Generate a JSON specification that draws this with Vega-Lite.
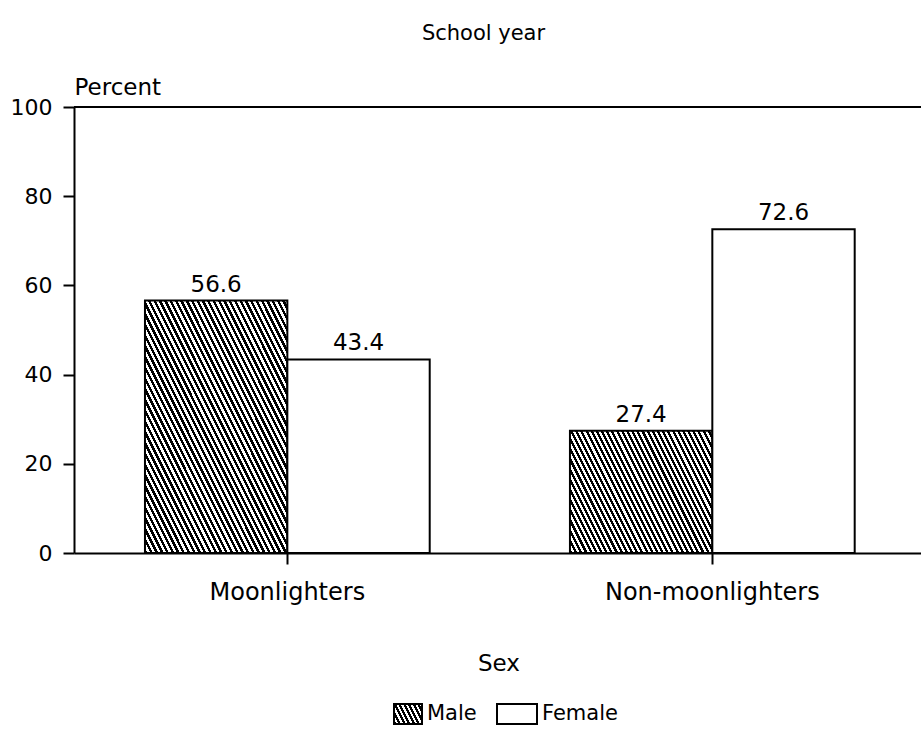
{
"$schema": "https://vega.github.io/schema/vega-lite/v6.json",
"width": 847,
"height": 446,
"autosize": {"type": "none"},
"padding": {"left": 74, "top": 107, "right": 0, "bottom": 176},
"background": "white",
"config": {"view": {"stroke": null}, "font": "DejaVu Sans",
"legend": {"orient": "none", "legendX": 307, "legendY": 546, "direction": "horizontal", "padding": 0, "titleOrient": "top", "titleAnchor": "middle", "titleFont": "DejaVu Sans", "titleFontSize": 23, "titleFontWeight": "normal", "titleColor": "#000", "titlePadding": 17, "labelFont": "DejaVu Sans", "labelFontSize": 21, "labelColor": "#000", "labelOffset": 4, "columnPadding": 16, "symbolSize": 1600, "symbolStrokeWidth": 2, "symbolStrokeColor": "#000", "symbolOpacity": 1}},
"title": {"text": "School year", "fontSize": 21, "font": "DejaVu Sans", "fontWeight": "normal", "color": "#000", "anchor": "middle", "dx": -14, "offset": 32},
"data": {"values": [
{"group": "Moonlighters", "sex": "Male", "percent": 56.6},
{"group": "Moonlighters", "sex": "Female", "percent": 43.4},
{"group": "Non-moonlighters", "sex": "Male", "percent": 27.4},
{"group": "Non-moonlighters", "sex": "Female", "percent": 72.6}
]},
"layer": [
{
"mark": {"type": "bar", "stroke": "#000", "strokeWidth": 2},
"encoding": {
"x": {"field": "group", "type": "nominal", "sort": ["Moonlighters", "Non-moonlighters"],
"scale": {"paddingInner": 0.33, "paddingOuter": 0.1615, "align": 0.517},
"axis": {"title": null, "labelAngle": 0, "labelLimit": 0, "labelFont": "DejaVu Sans", "labelFontSize": 24, "labelColor": "#000", "labelPadding": 16, "tickSize": 11, "tickColor": "#000", "tickWidth": 2, "domainColor": "#000", "domainWidth": 2}},
"xOffset": {"field": "sex", "type": "nominal", "sort": ["Male", "Female"], "scale": {"domain": ["Male", "Female"], "paddingInner": 0, "paddingOuter": 0}},
"y": {"field": "percent", "type": "quantitative", "scale": {"domain": [0, 100]},
"axis": {"title": "Percent", "titleAngle": 0, "titleAlign": "left", "titleX": 0, "titleY": -13, "titleBaseline": "alphabetic", "titleFont": "DejaVu Sans", "titleFontSize": 23, "titleFontWeight": "normal", "titleColor": "#000", "values": [0, 20, 40, 60, 80, 100], "labelFont": "DejaVu Sans", "labelFontSize": 22, "labelColor": "#000", "labelPadding": 11, "tickSize": 11, "tickColor": "#000", "tickWidth": 2, "domainColor": "#000", "domainWidth": 2, "grid": false}},
"fill": {"condition": [
{"test": "datum.sex === 'Male' && datum.group === 'Moonlighters'", "value": {"gradient": "linear", "x1": 0, "y1": 1, "x2": 1.057, "y2": 0.064, "stops": [
{"offset":0,"color":"#000"},
{"offset":0.01,"color":"#000"},{"offset":0.01,"color":"#fff"},
{"offset":0.02,"color":"#fff"},{"offset":0.02,"color":"#000"},
{"offset":0.03,"color":"#000"},{"offset":0.03,"color":"#fff"},
{"offset":0.04,"color":"#fff"},{"offset":0.04,"color":"#000"},
{"offset":0.05,"color":"#000"},{"offset":0.05,"color":"#fff"},
{"offset":0.06,"color":"#fff"},{"offset":0.06,"color":"#000"},
{"offset":0.07,"color":"#000"},{"offset":0.07,"color":"#fff"},
{"offset":0.08,"color":"#fff"},{"offset":0.08,"color":"#000"},
{"offset":0.09,"color":"#000"},{"offset":0.09,"color":"#fff"},
{"offset":0.1,"color":"#fff"},{"offset":0.1,"color":"#000"},
{"offset":0.11,"color":"#000"},{"offset":0.11,"color":"#fff"},
{"offset":0.12,"color":"#fff"},{"offset":0.12,"color":"#000"},
{"offset":0.13,"color":"#000"},{"offset":0.13,"color":"#fff"},
{"offset":0.14,"color":"#fff"},{"offset":0.14,"color":"#000"},
{"offset":0.15,"color":"#000"},{"offset":0.15,"color":"#fff"},
{"offset":0.16,"color":"#fff"},{"offset":0.16,"color":"#000"},
{"offset":0.17,"color":"#000"},{"offset":0.17,"color":"#fff"},
{"offset":0.18,"color":"#fff"},{"offset":0.18,"color":"#000"},
{"offset":0.19,"color":"#000"},{"offset":0.19,"color":"#fff"},
{"offset":0.2,"color":"#fff"},{"offset":0.2,"color":"#000"},
{"offset":0.21,"color":"#000"},{"offset":0.21,"color":"#fff"},
{"offset":0.22,"color":"#fff"},{"offset":0.22,"color":"#000"},
{"offset":0.23,"color":"#000"},{"offset":0.23,"color":"#fff"},
{"offset":0.24,"color":"#fff"},{"offset":0.24,"color":"#000"},
{"offset":0.25,"color":"#000"},{"offset":0.25,"color":"#fff"},
{"offset":0.26,"color":"#fff"},{"offset":0.26,"color":"#000"},
{"offset":0.27,"color":"#000"},{"offset":0.27,"color":"#fff"},
{"offset":0.28,"color":"#fff"},{"offset":0.28,"color":"#000"},
{"offset":0.29,"color":"#000"},{"offset":0.29,"color":"#fff"},
{"offset":0.3,"color":"#fff"},{"offset":0.3,"color":"#000"},
{"offset":0.31,"color":"#000"},{"offset":0.31,"color":"#fff"},
{"offset":0.32,"color":"#fff"},{"offset":0.32,"color":"#000"},
{"offset":0.33,"color":"#000"},{"offset":0.33,"color":"#fff"},
{"offset":0.34,"color":"#fff"},{"offset":0.34,"color":"#000"},
{"offset":0.35,"color":"#000"},{"offset":0.35,"color":"#fff"},
{"offset":0.36,"color":"#fff"},{"offset":0.36,"color":"#000"},
{"offset":0.37,"color":"#000"},{"offset":0.37,"color":"#fff"},
{"offset":0.38,"color":"#fff"},{"offset":0.38,"color":"#000"},
{"offset":0.39,"color":"#000"},{"offset":0.39,"color":"#fff"},
{"offset":0.4,"color":"#fff"},{"offset":0.4,"color":"#000"},
{"offset":0.41,"color":"#000"},{"offset":0.41,"color":"#fff"},
{"offset":0.42,"color":"#fff"},{"offset":0.42,"color":"#000"},
{"offset":0.43,"color":"#000"},{"offset":0.43,"color":"#fff"},
{"offset":0.44,"color":"#fff"},{"offset":0.44,"color":"#000"},
{"offset":0.45,"color":"#000"},{"offset":0.45,"color":"#fff"},
{"offset":0.46,"color":"#fff"},{"offset":0.46,"color":"#000"},
{"offset":0.47,"color":"#000"},{"offset":0.47,"color":"#fff"},
{"offset":0.48,"color":"#fff"},{"offset":0.48,"color":"#000"},
{"offset":0.49,"color":"#000"},{"offset":0.49,"color":"#fff"},
{"offset":0.5,"color":"#fff"},{"offset":0.5,"color":"#000"},
{"offset":0.51,"color":"#000"},{"offset":0.51,"color":"#fff"},
{"offset":0.52,"color":"#fff"},{"offset":0.52,"color":"#000"},
{"offset":0.53,"color":"#000"},{"offset":0.53,"color":"#fff"},
{"offset":0.54,"color":"#fff"},{"offset":0.54,"color":"#000"},
{"offset":0.55,"color":"#000"},{"offset":0.55,"color":"#fff"},
{"offset":0.56,"color":"#fff"},{"offset":0.56,"color":"#000"},
{"offset":0.57,"color":"#000"},{"offset":0.57,"color":"#fff"},
{"offset":0.58,"color":"#fff"},{"offset":0.58,"color":"#000"},
{"offset":0.59,"color":"#000"},{"offset":0.59,"color":"#fff"},
{"offset":0.6,"color":"#fff"},{"offset":0.6,"color":"#000"},
{"offset":0.61,"color":"#000"},{"offset":0.61,"color":"#fff"},
{"offset":0.62,"color":"#fff"},{"offset":0.62,"color":"#000"},
{"offset":0.63,"color":"#000"},{"offset":0.63,"color":"#fff"},
{"offset":0.64,"color":"#fff"},{"offset":0.64,"color":"#000"},
{"offset":0.65,"color":"#000"},{"offset":0.65,"color":"#fff"},
{"offset":0.66,"color":"#fff"},{"offset":0.66,"color":"#000"},
{"offset":0.67,"color":"#000"},{"offset":0.67,"color":"#fff"},
{"offset":0.68,"color":"#fff"},{"offset":0.68,"color":"#000"},
{"offset":0.69,"color":"#000"},{"offset":0.69,"color":"#fff"},
{"offset":0.7,"color":"#fff"},{"offset":0.7,"color":"#000"},
{"offset":0.71,"color":"#000"},{"offset":0.71,"color":"#fff"},
{"offset":0.72,"color":"#fff"},{"offset":0.72,"color":"#000"},
{"offset":0.73,"color":"#000"},{"offset":0.73,"color":"#fff"},
{"offset":0.74,"color":"#fff"},{"offset":0.74,"color":"#000"},
{"offset":0.75,"color":"#000"},{"offset":0.75,"color":"#fff"},
{"offset":0.76,"color":"#fff"},{"offset":0.76,"color":"#000"},
{"offset":0.77,"color":"#000"},{"offset":0.77,"color":"#fff"},
{"offset":0.78,"color":"#fff"},{"offset":0.78,"color":"#000"},
{"offset":0.79,"color":"#000"},{"offset":0.79,"color":"#fff"},
{"offset":0.8,"color":"#fff"},{"offset":0.8,"color":"#000"},
{"offset":0.81,"color":"#000"},{"offset":0.81,"color":"#fff"},
{"offset":0.82,"color":"#fff"},{"offset":0.82,"color":"#000"},
{"offset":0.83,"color":"#000"},{"offset":0.83,"color":"#fff"},
{"offset":0.84,"color":"#fff"},{"offset":0.84,"color":"#000"},
{"offset":0.85,"color":"#000"},{"offset":0.85,"color":"#fff"},
{"offset":0.86,"color":"#fff"},{"offset":0.86,"color":"#000"},
{"offset":0.87,"color":"#000"},{"offset":0.87,"color":"#fff"},
{"offset":0.88,"color":"#fff"},{"offset":0.88,"color":"#000"},
{"offset":0.89,"color":"#000"},{"offset":0.89,"color":"#fff"},
{"offset":0.9,"color":"#fff"},{"offset":0.9,"color":"#000"},
{"offset":0.91,"color":"#000"},{"offset":0.91,"color":"#fff"},
{"offset":0.92,"color":"#fff"},{"offset":0.92,"color":"#000"},
{"offset":0.93,"color":"#000"},{"offset":0.93,"color":"#fff"},
{"offset":0.94,"color":"#fff"},{"offset":0.94,"color":"#000"},
{"offset":0.95,"color":"#000"},{"offset":0.95,"color":"#fff"},
{"offset":0.96,"color":"#fff"},{"offset":0.96,"color":"#000"},
{"offset":0.97,"color":"#000"},{"offset":0.97,"color":"#fff"},
{"offset":0.98,"color":"#fff"},{"offset":0.98,"color":"#000"},
{"offset":0.99,"color":"#000"},{"offset":0.99,"color":"#fff"},
{"offset":1,"color":"#fff"}
]}},
{"test": "datum.sex === 'Male' && datum.group === 'Non-moonlighters'", "value": {"gradient": "linear", "x1": 0, "y1": 1, "x2": 1.207, "y2": 0.482, "stops": [
{"offset":0,"color":"#000"},
{"offset":0.0125,"color":"#000"},{"offset":0.0125,"color":"#fff"},
{"offset":0.025,"color":"#fff"},{"offset":0.025,"color":"#000"},
{"offset":0.0375,"color":"#000"},{"offset":0.0375,"color":"#fff"},
{"offset":0.05,"color":"#fff"},{"offset":0.05,"color":"#000"},
{"offset":0.0625,"color":"#000"},{"offset":0.0625,"color":"#fff"},
{"offset":0.075,"color":"#fff"},{"offset":0.075,"color":"#000"},
{"offset":0.0875,"color":"#000"},{"offset":0.0875,"color":"#fff"},
{"offset":0.1,"color":"#fff"},{"offset":0.1,"color":"#000"},
{"offset":0.1125,"color":"#000"},{"offset":0.1125,"color":"#fff"},
{"offset":0.125,"color":"#fff"},{"offset":0.125,"color":"#000"},
{"offset":0.1375,"color":"#000"},{"offset":0.1375,"color":"#fff"},
{"offset":0.15,"color":"#fff"},{"offset":0.15,"color":"#000"},
{"offset":0.1625,"color":"#000"},{"offset":0.1625,"color":"#fff"},
{"offset":0.175,"color":"#fff"},{"offset":0.175,"color":"#000"},
{"offset":0.1875,"color":"#000"},{"offset":0.1875,"color":"#fff"},
{"offset":0.2,"color":"#fff"},{"offset":0.2,"color":"#000"},
{"offset":0.2125,"color":"#000"},{"offset":0.2125,"color":"#fff"},
{"offset":0.225,"color":"#fff"},{"offset":0.225,"color":"#000"},
{"offset":0.2375,"color":"#000"},{"offset":0.2375,"color":"#fff"},
{"offset":0.25,"color":"#fff"},{"offset":0.25,"color":"#000"},
{"offset":0.2625,"color":"#000"},{"offset":0.2625,"color":"#fff"},
{"offset":0.275,"color":"#fff"},{"offset":0.275,"color":"#000"},
{"offset":0.2875,"color":"#000"},{"offset":0.2875,"color":"#fff"},
{"offset":0.3,"color":"#fff"},{"offset":0.3,"color":"#000"},
{"offset":0.3125,"color":"#000"},{"offset":0.3125,"color":"#fff"},
{"offset":0.325,"color":"#fff"},{"offset":0.325,"color":"#000"},
{"offset":0.3375,"color":"#000"},{"offset":0.3375,"color":"#fff"},
{"offset":0.35,"color":"#fff"},{"offset":0.35,"color":"#000"},
{"offset":0.3625,"color":"#000"},{"offset":0.3625,"color":"#fff"},
{"offset":0.375,"color":"#fff"},{"offset":0.375,"color":"#000"},
{"offset":0.3875,"color":"#000"},{"offset":0.3875,"color":"#fff"},
{"offset":0.4,"color":"#fff"},{"offset":0.4,"color":"#000"},
{"offset":0.4125,"color":"#000"},{"offset":0.4125,"color":"#fff"},
{"offset":0.425,"color":"#fff"},{"offset":0.425,"color":"#000"},
{"offset":0.4375,"color":"#000"},{"offset":0.4375,"color":"#fff"},
{"offset":0.45,"color":"#fff"},{"offset":0.45,"color":"#000"},
{"offset":0.4625,"color":"#000"},{"offset":0.4625,"color":"#fff"},
{"offset":0.475,"color":"#fff"},{"offset":0.475,"color":"#000"},
{"offset":0.4875,"color":"#000"},{"offset":0.4875,"color":"#fff"},
{"offset":0.5,"color":"#fff"},{"offset":0.5,"color":"#000"},
{"offset":0.5125,"color":"#000"},{"offset":0.5125,"color":"#fff"},
{"offset":0.525,"color":"#fff"},{"offset":0.525,"color":"#000"},
{"offset":0.5375,"color":"#000"},{"offset":0.5375,"color":"#fff"},
{"offset":0.55,"color":"#fff"},{"offset":0.55,"color":"#000"},
{"offset":0.5625,"color":"#000"},{"offset":0.5625,"color":"#fff"},
{"offset":0.575,"color":"#fff"},{"offset":0.575,"color":"#000"},
{"offset":0.5875,"color":"#000"},{"offset":0.5875,"color":"#fff"},
{"offset":0.6,"color":"#fff"},{"offset":0.6,"color":"#000"},
{"offset":0.6125,"color":"#000"},{"offset":0.6125,"color":"#fff"},
{"offset":0.625,"color":"#fff"},{"offset":0.625,"color":"#000"},
{"offset":0.6375,"color":"#000"},{"offset":0.6375,"color":"#fff"},
{"offset":0.65,"color":"#fff"},{"offset":0.65,"color":"#000"},
{"offset":0.6625,"color":"#000"},{"offset":0.6625,"color":"#fff"},
{"offset":0.675,"color":"#fff"},{"offset":0.675,"color":"#000"},
{"offset":0.6875,"color":"#000"},{"offset":0.6875,"color":"#fff"},
{"offset":0.7,"color":"#fff"},{"offset":0.7,"color":"#000"},
{"offset":0.7125,"color":"#000"},{"offset":0.7125,"color":"#fff"},
{"offset":0.725,"color":"#fff"},{"offset":0.725,"color":"#000"},
{"offset":0.7375,"color":"#000"},{"offset":0.7375,"color":"#fff"},
{"offset":0.75,"color":"#fff"},{"offset":0.75,"color":"#000"},
{"offset":0.7625,"color":"#000"},{"offset":0.7625,"color":"#fff"},
{"offset":0.775,"color":"#fff"},{"offset":0.775,"color":"#000"},
{"offset":0.7875,"color":"#000"},{"offset":0.7875,"color":"#fff"},
{"offset":0.8,"color":"#fff"},{"offset":0.8,"color":"#000"},
{"offset":0.8125,"color":"#000"},{"offset":0.8125,"color":"#fff"},
{"offset":0.825,"color":"#fff"},{"offset":0.825,"color":"#000"},
{"offset":0.8375,"color":"#000"},{"offset":0.8375,"color":"#fff"},
{"offset":0.85,"color":"#fff"},{"offset":0.85,"color":"#000"},
{"offset":0.8625,"color":"#000"},{"offset":0.8625,"color":"#fff"},
{"offset":0.875,"color":"#fff"},{"offset":0.875,"color":"#000"},
{"offset":0.8875,"color":"#000"},{"offset":0.8875,"color":"#fff"},
{"offset":0.9,"color":"#fff"},{"offset":0.9,"color":"#000"},
{"offset":0.9125,"color":"#000"},{"offset":0.9125,"color":"#fff"},
{"offset":0.925,"color":"#fff"},{"offset":0.925,"color":"#000"},
{"offset":0.9375,"color":"#000"},{"offset":0.9375,"color":"#fff"},
{"offset":0.95,"color":"#fff"},{"offset":0.95,"color":"#000"},
{"offset":0.9625,"color":"#000"},{"offset":0.9625,"color":"#fff"},
{"offset":0.975,"color":"#fff"},{"offset":0.975,"color":"#000"},
{"offset":0.9875,"color":"#000"},{"offset":0.9875,"color":"#fff"},
{"offset":1,"color":"#fff"}
]}}
], "value": "#fff"}
}
},
{
"mark": {"type": "point", "filled": true, "opacity": 0, "strokeWidth": 2, "size": 1600},
"encoding": {
"x": {"field": "group", "type": "nominal", "sort": ["Moonlighters", "Non-moonlighters"]},
"xOffset": {"field": "sex", "type": "nominal", "sort": ["Male", "Female"]},
"y": {"field": "percent", "type": "quantitative"},
"fill": {"field": "sex", "type": "nominal", "scale": {"domain": ["Male", "Female"], "range": [{"expr": "{gradient:'linear',x1:0,y1:1,x2:1.2035,y2:0.57,stops:[{offset:0,color:'#000'},{offset:0.0625,color:'#000'},{offset:0.0625,color:'#fff'},{offset:0.125,color:'#fff'},{offset:0.125,color:'#000'},{offset:0.1875,color:'#000'},{offset:0.1875,color:'#fff'},{offset:0.25,color:'#fff'},{offset:0.25,color:'#000'},{offset:0.3125,color:'#000'},{offset:0.3125,color:'#fff'},{offset:0.375,color:'#fff'},{offset:0.375,color:'#000'},{offset:0.4375,color:'#000'},{offset:0.4375,color:'#fff'},{offset:0.5,color:'#fff'},{offset:0.5,color:'#000'},{offset:0.5625,color:'#000'},{offset:0.5625,color:'#fff'},{offset:0.625,color:'#fff'},{offset:0.625,color:'#000'},{offset:0.6875,color:'#000'},{offset:0.6875,color:'#fff'},{offset:0.75,color:'#fff'},{offset:0.75,color:'#000'},{offset:0.8125,color:'#000'},{offset:0.8125,color:'#fff'},{offset:0.875,color:'#fff'},{offset:0.875,color:'#000'},{offset:0.9375,color:'#000'},{offset:0.9375,color:'#fff'},{offset:1,color:'#fff'}]}"}, "#fff"]},
"legend": {"title": "Sex"}},
"shape": {"field": "sex", "type": "nominal", "scale": {"domain": ["Male", "Female"], "range": ["M-0.4,-0.5H1V0.5H-0.4Z", "M-1,-0.5H1V0.5H-1Z"]},
"legend": {"title": "Sex"}},
"stroke": {"field": "sex", "type": "nominal", "scale": {"domain": ["Male", "Female"], "range": ["#000", "#000"]},
"legend": {"title": "Sex"}}
}
},
{
"mark": {"type": "rule", "color": "#000", "strokeWidth": 2},
"encoding": {"y": {"datum": 100, "type": "quantitative"}}
},
{
"mark": {"type": "text", "font": "DejaVu Sans", "fontSize": 23, "color": "#000", "align": "center", "baseline": "alphabetic", "dy": -9},
"encoding": {
"x": {"field": "group", "type": "nominal", "sort": ["Moonlighters", "Non-moonlighters"]},
"xOffset": {"field": "sex", "type": "nominal", "sort": ["Male", "Female"]},
"y": {"field": "percent", "type": "quantitative"},
"text": {"field": "percent", "type": "quantitative", "format": ".1f"}
}
}
]
}
